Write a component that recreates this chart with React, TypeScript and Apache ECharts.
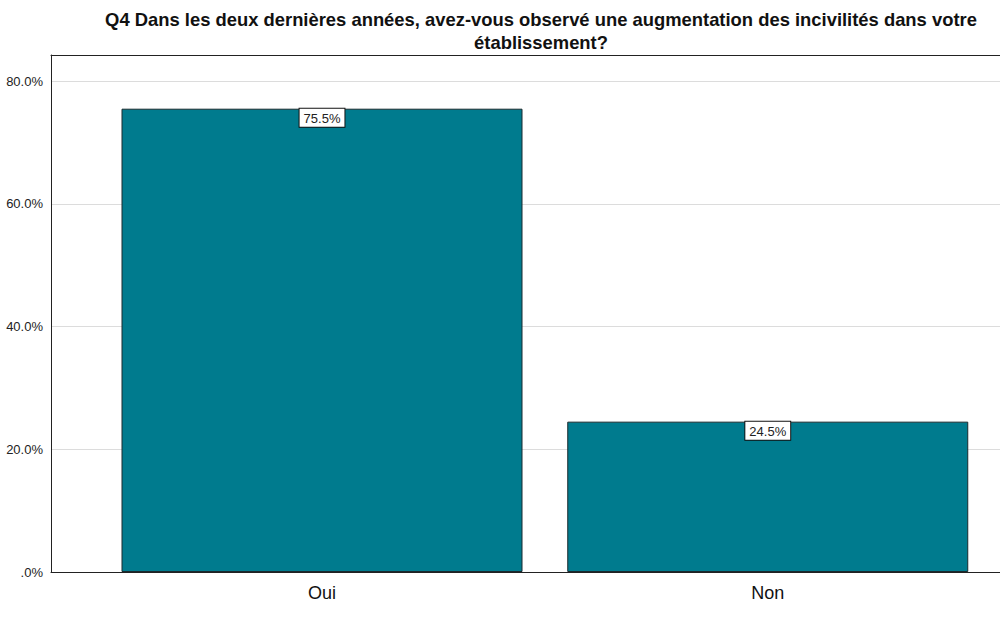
import React, { useEffect, useRef } from "react";
import * as echarts from "echarts";

const titleLines = [
  "Q4 Dans les deux dernières années, avez-vous observé une augmentation des incivilités dans votre",
  "établissement?",
];
const categories = ["Oui", "Non"];
const values = [75.5, 24.5];
const yTicks = [0, 20, 40, 60, 80];

export default function App() {
  const ref = useRef<HTMLDivElement>(null);
  useEffect(() => {
    const chart = echarts.init(ref.current!, null, { renderer: "svg" });
    const font = "'Liberation Sans', Arial, sans-serif";
    const xMin = 0.392;
    const xMax = 2.521;
    chart.setOption({
      animation: false,
      backgroundColor: "#ffffff",
      textStyle: { fontFamily: font },
      graphic: titleLines.map((t, i) => ({
        type: "text",
        x: 541,
        y: 19 + i * 23,
        style: {
          text: t,
          fill: "#111",
          font: `bold 18.4px ${font}`,
          textAlign: "center",
          textVerticalAlign: "middle",
        },
      })),
      grid: {
        left: 51,
        right: 0,
        top: 55,
        bottom: 62,
      },
      xAxis: [
        {
          type: "value",
          min: xMin,
          max: xMax,
          axisLine: { show: true, onZero: false, lineStyle: { color: "#222", width: 1 } },
          axisTick: { show: false },
          splitLine: { show: false },
          axisLabel: {
            customValues: categories.map((_, i) => i + 1),
            formatter: (v: number) => categories[Math.round(v) - 1] ?? "",
            fontSize: 18,
            color: "#111",
            margin: 12,
            fontFamily: font,
          },
        },
        {
          type: "value",
          position: "top",
          min: xMin,
          max: xMax,
          axisLine: { show: true, onZero: false, lineStyle: { color: "#222", width: 1 } },
          axisTick: { show: false },
          splitLine: { show: false },
          axisLabel: { show: false },
        },
      ],
      yAxis: {
        type: "value",
        min: 0,
        max: 84.25,
        interval: 20,
        axisLine: { show: true, lineStyle: { color: "#222", width: 1 } },
        axisTick: { show: false },
        splitLine: { show: true, lineStyle: { color: "#dcdcdc", width: 1 } },
        axisLabel: {
          customValues: yTicks,
          formatter: (v: number) =>
            yTicks.includes(v) ? (v === 0 ? ".0%" : v.toFixed(1) + "%") : "",
          fontSize: 13,
          color: "#222",
          margin: 8,
          fontFamily: font,
        },
      },
      series: [
        {
          type: "bar",
          xAxisIndex: 0,
          data: values.map((v, i) => [i + 1, v]),
          barWidth: 401,
          itemStyle: { color: "#007b8e", borderColor: "#1a2a2e", borderWidth: 1 },
          label: {
            show: true,
            position: "insideTop",
            distance: 0,
            formatter: (p: any) => p.value[1].toFixed(1) + "%",
            fontSize: 13,
            color: "#222",
            backgroundColor: "#ffffff",
            borderColor: "#111",
            borderWidth: 1,
            padding: [3, 4, 2, 4],
            fontFamily: font,
          },
        },
      ],
    });
    return () => chart.dispose();
  }, []);
  return (
    <div
      ref={ref}
      style={{ position: "fixed", left: 0, top: 0, width: 1000, height: 634 }}
    />
  );
}
